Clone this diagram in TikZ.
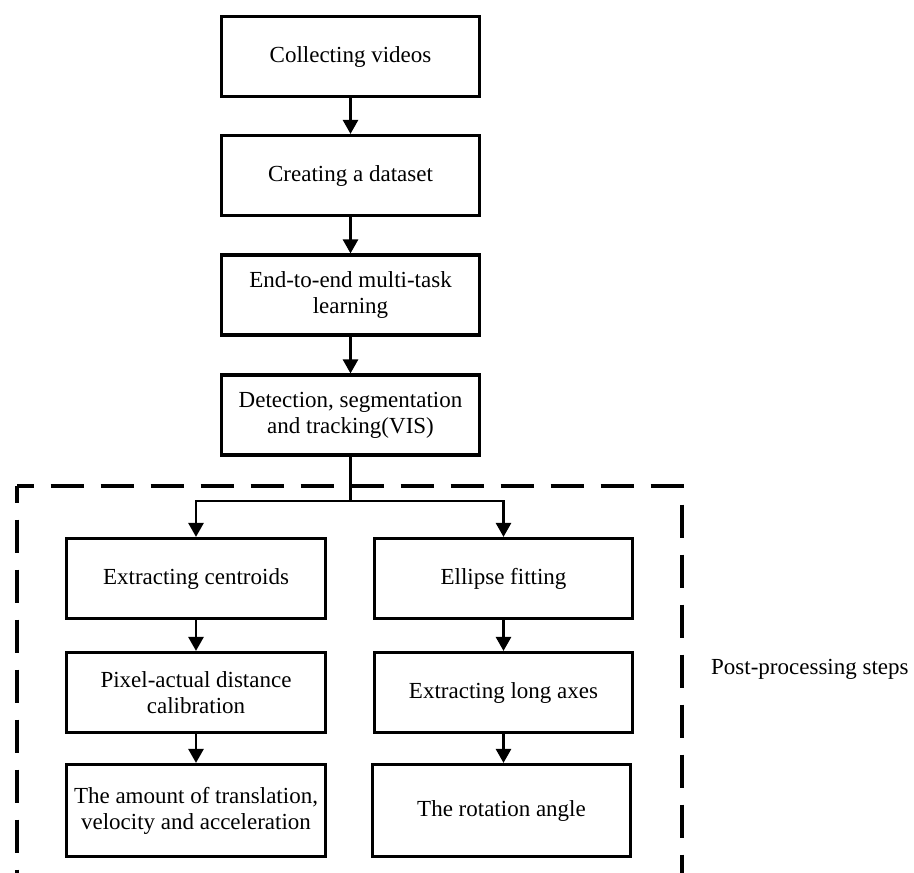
\documentclass[tikz,border=0pt]{standalone}
\usepackage{fontspec}
\setmainfont{Liberation Serif}
\usetikzlibrary{arrows.meta}
\begin{document}
\begin{tikzpicture}[x=1pt,y=-1pt,
  box/.style={draw=black, line width=3.2pt, fill=white, inner sep=0pt, align=center,
    minimum width=258pt, minimum height=80pt,
    font=\fontsize{23}{26}\selectfont},
  arr/.style={line width=2.8pt, -{Triangle[width=15pt,length=14pt]}},
  link/.style={line width=2.8pt},
  frame/.style={line width=4pt, dash pattern=on 33pt off 17pt, dash phase=16.5pt}]
\useasboundingbox (0,0) rectangle (914,873);
\fill[white] (0,0) rectangle (914,873);

% dashed frame
\draw[frame] (17,486) -- (682,486) -- (682,874);
\draw[frame] (17,486) -- (17,874);
\draw[frame, draw=black!35, line width=2pt] (682,873.5) -- (17,873.5);

% main column
\node[box] (b1) at (350.5,56.5) {Collecting videos};
\node[box] (b2) at (350.5,175.5) {Creating a dataset};
\node[box] (b3) at (350.5,295) {End-to-end multi-task\\learning};
\node[box] (b4) at (350.5,415) {Detection, segmentation\\and tracking(VIS)};

% left branch
\node[box, minimum width=259pt] (c1) at (196,578.5) {Extracting centroids};
\node[box, minimum width=259pt] (c2) at (196,692.5) {Pixel-actual distance\\calibration};
\node[box, minimum width=259pt, minimum height=92pt] (c3) at (196,810.5) {The amount of translation,\\velocity and acceleration};

% right branch
\node[box] (e1) at (503.5,578.5) {Ellipse fitting};
\node[box] (e2) at (503.5,692.5) {Extracting long axes};
\node[box, minimum height=92pt] (e3) at (501.5,810.5) {The rotation angle};

\coordinate (split) at (350.5,501);

\draw[arr] (b1) -- (b2);
\draw[arr] (b2) -- (b3);
\draw[arr] (b3) -- (b4);
\draw[link] (b4) -- (split);
\draw[arr] (split) -| (c1.north);
\draw[arr] (split) -| (e1.north);
\draw[arr] (c1) -- (c2);
\draw[arr] (c2) -- (c3);
\draw[arr] (e1) -- (e2);
\draw[arr] (e2.south) -- (e2.south |- e3.north);

\node[anchor=base west, inner sep=0pt, font=\fontsize{23}{26}\selectfont] (label) at (711,674) {Post-processing steps};
\end{tikzpicture}
\end{document}
